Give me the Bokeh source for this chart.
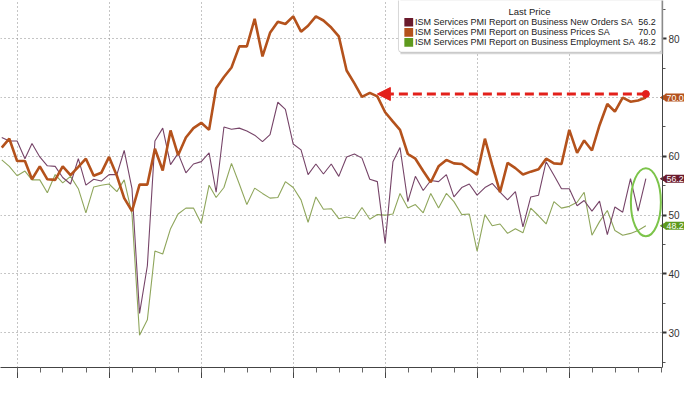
import math
import pandas as pd
from bokeh.plotting import figure
from bokeh.models import (Range1d, FixedTicker, BoxAnnotation, Label, Arrow, Span,
                          NormalHead, ColumnDataSource)
from bokeh.embed import file_html
from bokeh.resources import INLINE

# ---------------- data (monthly, Oct 2018 .. Oct 2025) ----------------
dates = pd.date_range("2018-10-01", periods=85, freq="MS") + pd.offsets.MonthEnd(0)

prices = [61.5, 63.0, 59.2, 59.2, 56.1, 58.3, 56.1, 56.0, 58.3, 56.8,
          58.2, 59.6, 56.7, 57.2, 59.9, 56.7, 52.9, 50.7, 55.2, 55.2,
          61.3, 57.6, 64.4, 60.2, 63.2, 64.8, 65.7, 64.5, 71.6, 73.5,
          75.1, 78.7, 78.7, 83.4, 77.0, 81.0, 82.9, 82.5, 83.8, 81.2,
          82.2, 83.8, 83.1, 81.9, 80.4, 74.6, 72.4, 70.1, 70.8, 70.2,
          67.5, 65.9, 64.5, 60.4, 59.6, 57.5, 55.6, 58.3, 59.4, 58.8,
          58.7, 57.8, 56.9, 63.0, 58.5, 53.9, 58.9, 58.0, 56.9, 57.4,
          57.8, 59.6, 58.8, 58.7, 64.5, 60.6, 62.7, 61.0, 65.3, 68.9,
          67.6, 70.0, 69.3, 69.5, 70.0]

new_orders = [63.2, 62.6, 62.6, 59.6, 62.2, 59.9, 58.4, 58.3, 56.4, 55.3,
              59.6, 55.1, 56.1, 55.8, 56.9, 56.9, 61.0, 54.5, 33.3, 41.4,
              62.6, 64.8, 58.6, 60.5, 57.2, 58.7, 59.1, 60.6, 53.9, 65.0,
              64.6, 64.8, 64.3, 63.6, 62.5, 63.7, 69.2, 68.0, 62.1, 61.1,
              56.9, 58.7, 57.0, 58.7, 56.6, 59.9, 60.4, 59.7, 56.1, 55.7,
              45.2, 59.1, 61.5, 52.3, 56.6, 54.2, 55.9, 55.7, 56.9, 53.1,
              54.7, 55.3, 53.4, 54.7, 55.4, 53.9, 52.6, 54.0, 48.0, 53.1,
              53.4, 59.1, 56.8, 54.5, 54.5, 51.6, 52.5, 50.7, 52.4, 46.7,
              51.4, 50.5, 56.2, 50.7, 56.2]

employment = [59.4, 58.3, 56.7, 57.5, 56.0, 56.0, 53.8, 56.9, 55.5, 56.6,
              54.5, 50.4, 54.8, 55.1, 55.3, 54.0, 56.0, 50.2, 29.6, 32.2,
              43.9, 43.4, 47.7, 50.2, 51.2, 51.2, 48.6, 55.1, 53.0, 54.7,
              58.8, 55.3, 51.8, 54.6, 53.7, 52.9, 53.0, 55.7, 54.7, 52.6,
              48.8, 53.1, 51.0, 51.1, 49.4, 49.7, 49.4, 51.3, 49.3, 50.1,
              50.0, 50.2, 53.7, 51.2, 51.8, 50.4, 53.7, 51.2, 53.7, 52.3,
              50.1, 50.2, 43.9, 50.1, 48.2, 48.5, 46.9, 47.7, 47.0, 51.2,
              49.9, 48.5, 52.3, 51.2, 51.5, 52.2, 53.9, 46.6, 48.9, 50.8,
              47.4, 46.6, 46.9, 47.4, 48.2]

series_names = ["ISM Services PMI Report on Business New Orders SA",
                "ISM Services PMI Report on Business Prices SA",
                "ISM Services PMI Report on Business Employment SA"]
legend_title = "Last Price"
y_ticks = [30, 40, 50, 60, 70, 80]
y_minor = [25, 35, 45, 55, 65, 75, 85]
year_ticks = pd.date_range("2019-01-01", periods=7, freq="YS")
quarter_ticks = pd.date_range("2018-10-01", periods=30, freq="QS")

# ---------------- styling ----------------
C_PRICES = "#b4521c"
C_NO_LINE = "#764468"
C_NO_TAG = "#6a1a2c"
C_EMP_LINE = "#8fa65c"
C_EMP_TAG = "#5e9a1e"
FONT = "Liberation Sans"
PLOT_W = 662          # width of the drawing area left of the value axis
FRAME_W, FRAME_H = 684, 367
EXTRA = FRAME_W - PLOT_W   # strip right of the axis line (tick labels + tags)

def ms(d):
    return pd.Timestamp(d).value / 1e6

x0, x1 = ms("2018-10-26"), ms("2026-01-05")   # spans the drawing area
y0, y1 = 24.1, 86.5
x_end = x0 + (x1 - x0) * FRAME_W / PLOT_W

p = figure(frame_width=FRAME_W, frame_height=FRAME_H, x_axis_type="datetime",
           y_axis_location="right",
           x_range=Range1d(x0, x_end), y_range=Range1d(y0, y1),
           output_backend="svg", toolbar_location=None,
           min_border_left=0, min_border_top=0, min_border_right=0, min_border_bottom=0)
p.outline_line_color = None
p.background_fill_color = "white"
p.border_fill_color = "white"

last_vals = [new_orders[-1], prices[-1], employment[-1]]

# value axis: Bokeh axis at the frame edge, ticks/labels pulled back to the axis line
ya = p.yaxis[0]
ya.ticker = FixedTicker(ticks=y_ticks, minor_ticks=y_minor)
ya.axis_line_color = None
ya.major_tick_line_color = "#333333"
ya.major_tick_line_width = 2
ya.major_tick_in = EXTRA
ya.major_tick_out = -(EXTRA - 4)
ya.minor_tick_in = EXTRA
ya.minor_tick_out = -(EXTRA - 3)
ya.minor_tick_line_color = "#555555"
ya.major_label_standoff = 2
ya.major_label_text_font = FONT
ya.major_label_text_font_size = "10px"
ya.major_label_text_color = "#333333"
ya.major_label_overrides = {t: "" for t in y_ticks if abs(t - prices[-1]) < 2}

year_ms = [ms(d) for d in year_ticks]
xa = p.xaxis[0]
xa.ticker = FixedTicker(ticks=year_ms, minor_ticks=[ms(d) for d in quarter_ticks])
xa.bounds = (x0, x1)
xa.axis_line_color = "#444444"
xa.major_tick_line_color = "#444444"
xa.minor_tick_line_color = "#666666"
xa.major_tick_in = 0
xa.major_tick_out = 11
xa.minor_tick_in = 0
xa.minor_tick_out = 5
xa.major_label_overrides = {t: "" for t in year_ms}
xa.major_label_standoff = 0

for g in (p.xgrid[0], p.ygrid[0]):
    g.grid_line_color = "#8a8a8a"
    g.grid_line_dash = "1 3"
    g.grid_line_width = 1

# white strip right of the axis line (hides grid lines there)
p.add_layout(BoxAnnotation(left=x1, right=x_end, fill_color="white", fill_alpha=1.0,
                           line_color=None, level="glyph"))
# the visible value-axis line
p.add_layout(Span(location=x1, dimension="height", line_color="#444444", line_width=1))

# lines
src = ColumnDataSource(dict(date=dates, prices=prices, new_orders=new_orders,
                            employment=employment))
p.line("date", "employment", source=src, line_color=C_EMP_LINE, line_width=1.1)
p.line("date", "new_orders", source=src, line_color=C_NO_LINE, line_width=1.1)
p.line("date", "prices", source=src, line_color=C_PRICES, line_width=2.6)

# red dashed arrow from the latest prices value back to the earlier ~70 reading
last_date = dates[-1]
match_idx = 49  # Nov 2022, when prices were last at this level
arrow_y = prices[-1] + 0.6
p.add_layout(Arrow(end=NormalHead(size=13, fill_color="#e3201b", line_color="#e3201b"),
                   x_start=ms(last_date), y_start=arrow_y,
                   x_end=ms(dates[match_idx]), y_end=arrow_y,
                   line_color="#e3201b", line_width=3, line_dash="9 5"))
p.scatter([last_date], [arrow_y], size=7, color="#e3201b")

# green highlight ellipse around the latest readings
p.ellipse(x=[last_date], y=[(new_orders[-1] + employment[-1]) / 2],
          width=30, height=68, width_units="screen", height_units="screen",
          fill_color=None, line_color="#7cc44a", line_width=2)

# ---------------- legend (manual, Bloomberg style) ----------------
def X(px):
    return x0 + px / 677.0 * (x1 - x0)

def Y(py):
    return y1 - py / 383.0 * (y1 - y0)

p.add_layout(BoxAnnotation(left=X(409), right=X(678), top=Y(-3), bottom=Y(56),
                           fill_color="#bbbbbb", fill_alpha=0.6, line_color=None,
                           level="annotation"))
p.add_layout(BoxAnnotation(left=X(407), right=X(676), top=Y(-4), bottom=Y(54),
                           fill_color="white", fill_alpha=1.0, line_color="#7a7a7a",
                           line_width=1, border_radius=3, level="annotation"))
p.add_layout(Label(x=X(541), y=Y(11), text=legend_title, text_align="center",
                   text_baseline="middle", text_font=FONT, text_font_size="9.5px",
                   text_color="#222222"))

sq_colors = [C_NO_TAG, C_PRICES, C_EMP_TAG]
row_y = [22.7, 33.2, 43.7]
for name, val, col, ry in zip(series_names, last_vals, sq_colors, row_y):
    p.add_layout(BoxAnnotation(left=X(413), right=X(422), top=Y(ry - 4.5), bottom=Y(ry + 4.5),
                               fill_color=col, fill_alpha=1.0, line_color=None,
                               level="annotation"))
    p.add_layout(Label(x=X(424), y=Y(ry), text=name, text_align="left",
                       text_baseline="middle", text_font=FONT, text_font_size="9px",
                       text_color="#222222"))
    p.add_layout(Label(x=X(670), y=Y(ry), text=f"{val:.1f}", text_align="right",
                       text_baseline="middle", text_font=FONT, text_font_size="9px",
                       text_color="#222222"))

# value tags just right of the axis line (small pointer + coloured box)
p.scatter(x=[X(679.0)] * 3, y=last_vals, marker="triangle", angle=math.pi / 2,
          size=7, color=sq_colors, level="annotation")
for val, col in zip(last_vals, sq_colors):
    p.add_layout(Label(x=x1, y=val, x_offset=3, text=f"{val:.1f}", text_align="left",
                       text_baseline="middle", text_font=FONT, text_font_size="8.8px",
                       text_color="white", background_fill_color=col,
                       background_fill_alpha=1.0, padding=1))

open("out.html", "w").write(file_html(p, INLINE))
